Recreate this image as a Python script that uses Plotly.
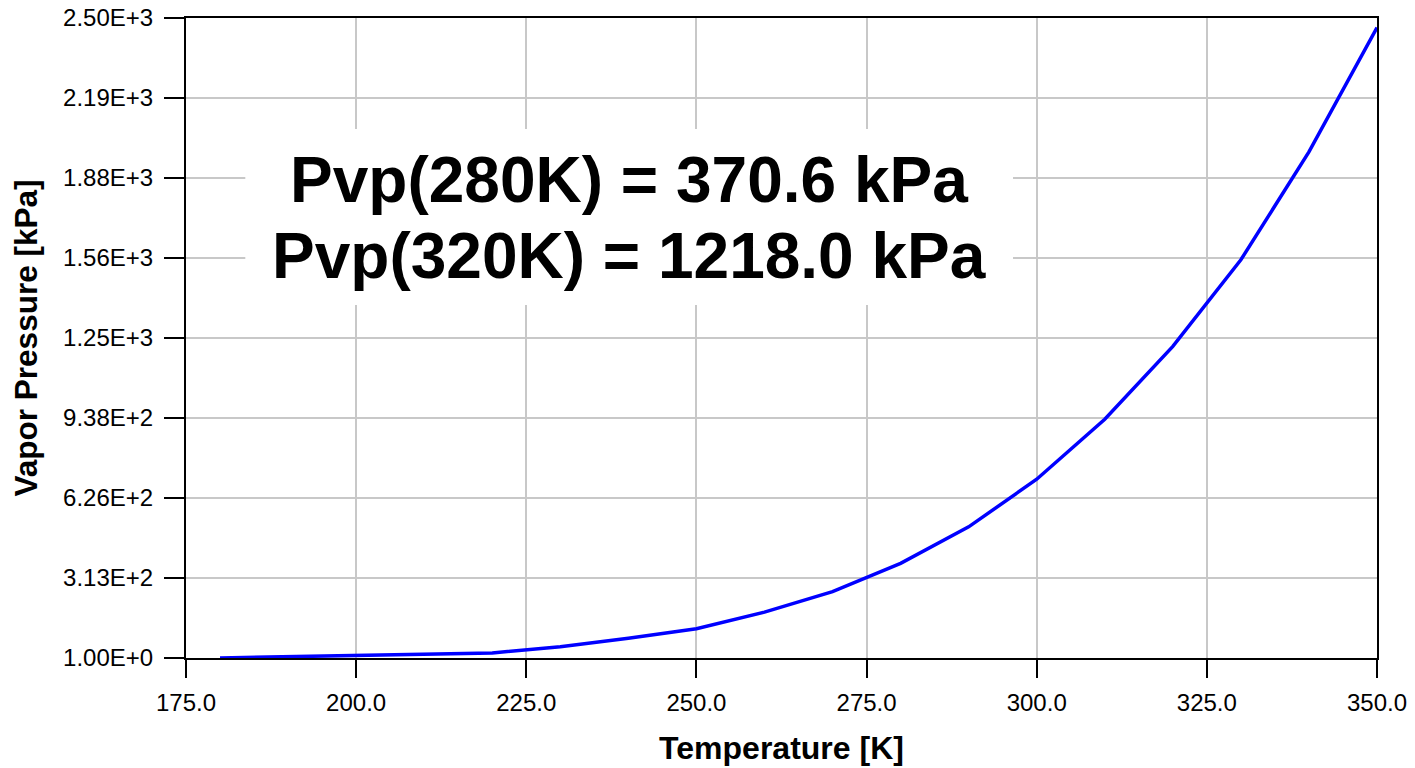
import plotly.graph_objects as go

# Data
temperature_K = [180, 190, 200, 210, 220, 230, 240, 250, 260, 270,
                 280, 290, 300, 310, 320, 330, 340, 350]
vapor_pressure_kPa = [1, 6, 8, 13, 21, 45, 78, 115, 180, 260,
                      370.6, 513, 699, 933, 1218.0, 1556, 1977, 2463]

x_tick_vals = [175, 200, 225, 250, 275, 300, 325, 350]
x_tick_text = ["175.0", "200.0", "225.0", "250.0", "275.0", "300.0", "325.0", "350.0"]
y_tick_vals = [1 + k * (2500 - 1) / 8 for k in range(9)]
y_tick_text = ["1.00E+0", "3.13E+2", "6.26E+2", "9.38E+2", "1.25E+3",
               "1.56E+3", "1.88E+3", "2.19E+3", "2.50E+3"]

annotation_lines = ["Pvp(280K) = 370.6 kPa", "Pvp(320K) = 1218.0 kPa"]

FONT = "Liberation Sans, Arial, sans-serif"

fig = go.Figure()
fig.add_trace(go.Scatter(
    x=temperature_K, y=vapor_pressure_kPa, mode="lines",
    line=dict(color="#0000ff", width=3.5), showlegend=False,
))

axis_common = dict(
    showline=True, linecolor="black", linewidth=2, mirror=True,
    ticks="outside", tickcolor="black", tickwidth=2,
    showgrid=True, gridcolor="#c8c8c8", gridwidth=1.5,
    zeroline=False, automargin=False,
    tickfont=dict(family=FONT, size=24, color="black"),
)

fig.update_xaxes(
    range=[175, 350], tickvals=x_tick_vals, ticktext=x_tick_text,
    ticklen=18, ticklabelstandoff=4,
    title=dict(text="<b>Temperature [K]</b>", font=dict(family=FONT, size=32, color="black"), standoff=22),
    **axis_common,
)
fig.update_yaxes(
    range=[1, 2500], tickvals=y_tick_vals, ticktext=y_tick_text,
    ticklen=20, ticklabelstandoff=6,
    title=dict(text="<b>Vapor Pressure [kPa]</b>", font=dict(family=FONT, size=31.5, color="black"), standoff=16),
    **axis_common,
)

# white box behind annotation text
fig.add_shape(type="rect", xref="paper", yref="paper",
              x0=0.0498, x1=0.6944, y0=0.5516, y1=0.8266,
              fillcolor="white", line=dict(width=0), layer="above")

for txt, yy in zip(annotation_lines, [0.7461, 0.6281]):
    fig.add_annotation(
        xref="paper", yref="paper", x=0.3721, y=yy,
        xanchor="center", yanchor="middle", showarrow=False,
        text=f"<b>{txt}</b>",
        font=dict(family=FONT, size=64, color="black"),
    )

fig.update_layout(
    width=1415, height=768,
    margin=dict(l=186, r=38, t=18, b=110),
    paper_bgcolor="white", plot_bgcolor="white",
    font=dict(family=FONT, color="black"),
)

fig.write_html("out.html")
